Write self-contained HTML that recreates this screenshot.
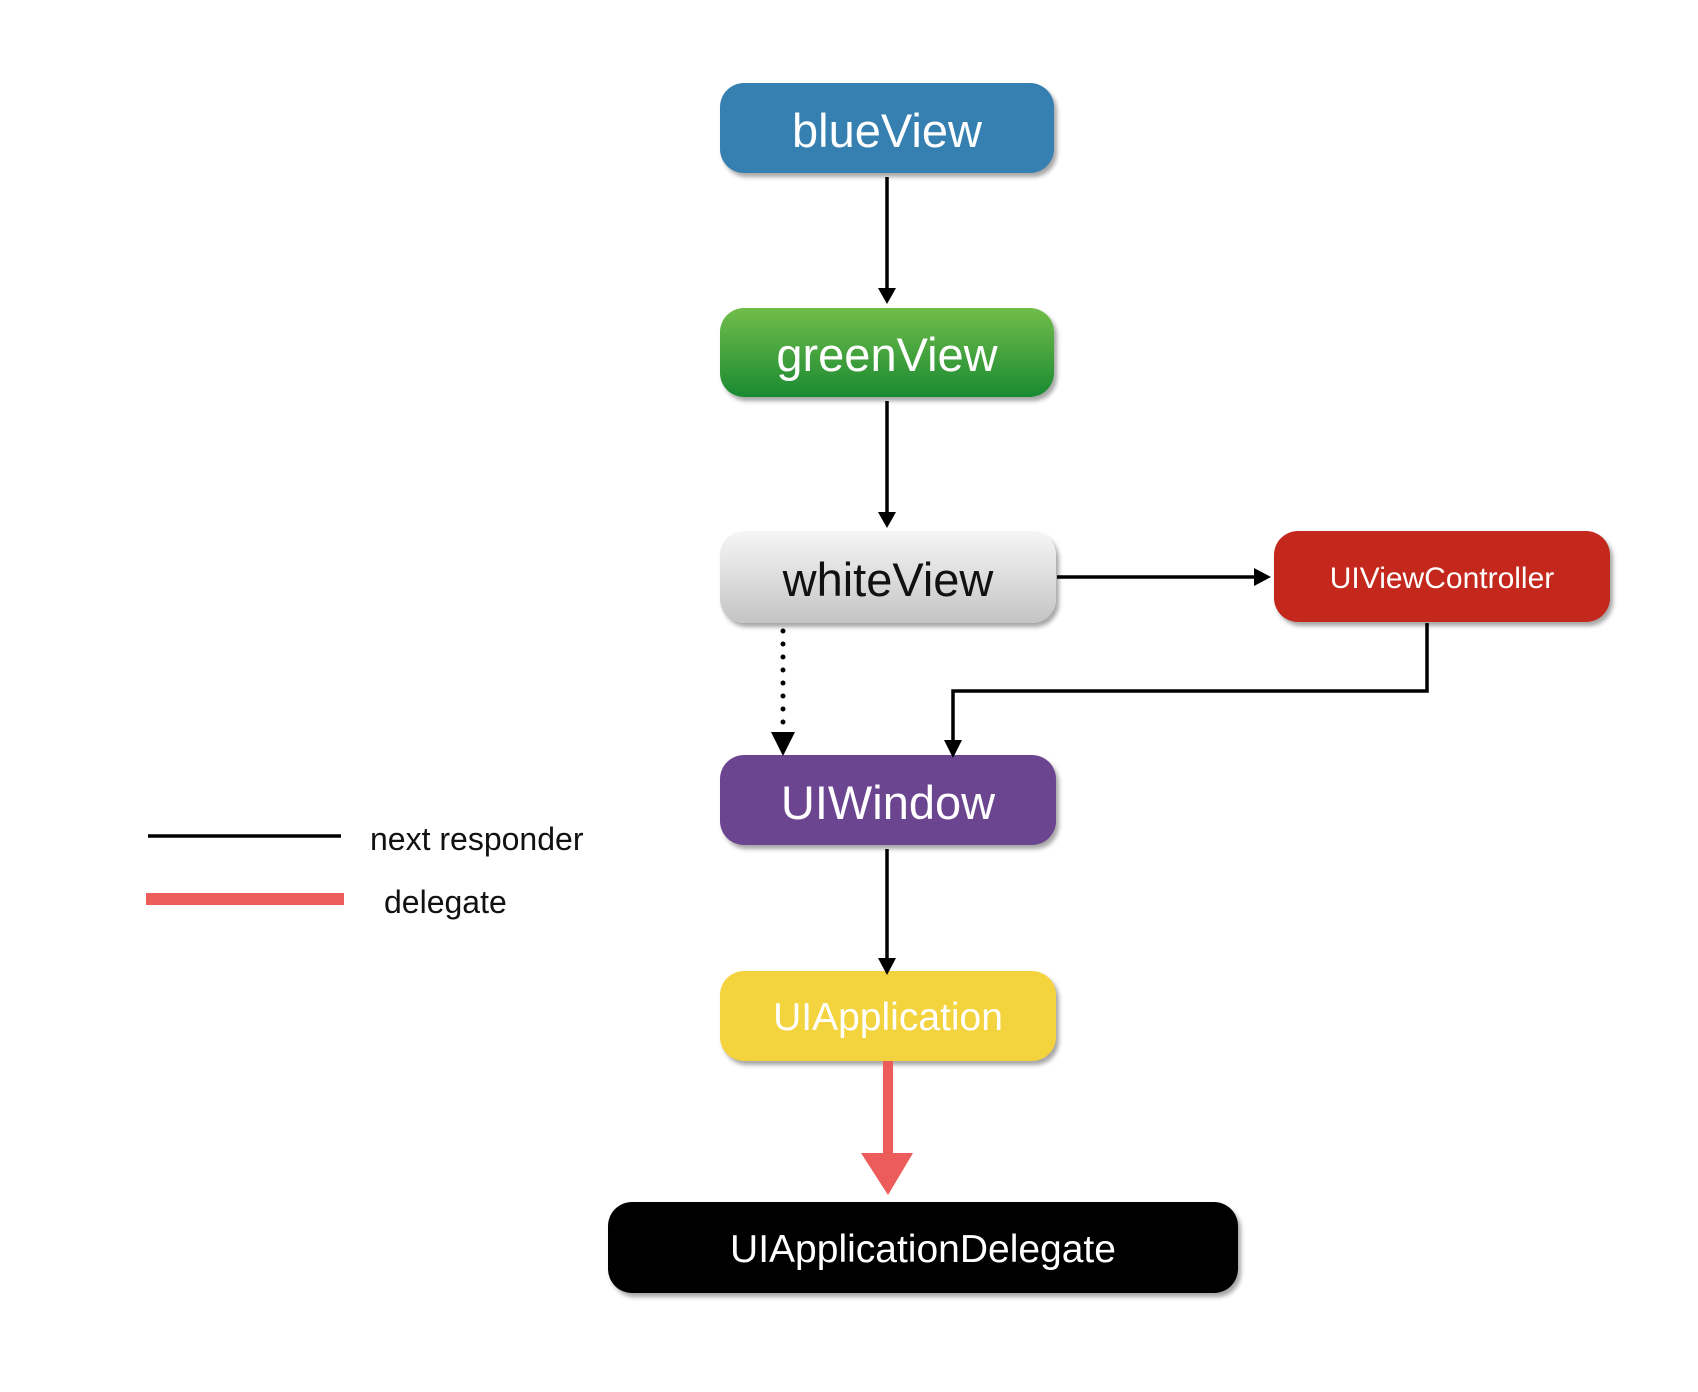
<!DOCTYPE html>
<html><head><meta charset="utf-8"><style>
html,body{margin:0;padding:0;background:#fff;width:1698px;height:1392px;overflow:hidden}
.b{position:absolute;border-radius:24px;display:flex;align-items:center;justify-content:center;font-family:"Liberation Sans",sans-serif;color:#fff;box-shadow:3px 4px 4px rgba(0,0,0,0.35);padding-top:4px;box-sizing:border-box}
svg{position:absolute;left:0;top:0}
.t{position:absolute;font-family:"Liberation Sans",sans-serif;font-size:32px;color:#111}
</style></head><body>
<div class="b" style="left:720px;top:83px;width:334px;height:90px;background:#3580b0;font-size:47px">blueView</div>
<div class="b" style="left:720px;top:308px;width:334px;height:89px;background:linear-gradient(#72bd4a,#1a8a32);font-size:47px">greenView</div>
<div class="b" style="left:720px;top:531px;width:336px;height:92px;background:linear-gradient(#f6f6f6,#c4c4c4);color:#111;font-size:47px">whiteView</div>
<div class="b" style="left:1274px;top:531px;width:336px;height:91px;background:#c4281c;font-size:30px">UIViewController</div>
<div class="b" style="left:720px;top:755px;width:336px;height:90px;background:#6b4590;font-size:47px">UIWindow</div>
<div class="b" style="left:720px;top:971px;width:336px;height:90px;background:#f3d33e;font-size:39px">UIApplication</div>
<div class="b" style="left:608px;top:1202px;width:630px;height:91px;background:#000;font-size:39px">UIApplicationDelegate</div>
<svg width="1698" height="1392">
<g stroke="#000" stroke-width="3.5" fill="none">
<line x1="887" y1="177" x2="887" y2="290"/>
<line x1="887" y1="401" x2="887" y2="514"/>
<line x1="1057" y1="577" x2="1256" y2="577"/>
<polyline points="1427,623 1427,691 953,691 953,742"/>
<line x1="887" y1="849" x2="887" y2="960"/>
<line x1="783" y1="631" x2="783" y2="735" stroke-dasharray="0 13" stroke-linecap="round" stroke-width="5"/>
<line x1="148" y1="836" x2="341" y2="836"/>
</g>
<g fill="#000">
<polygon points="878,288 896,288 887,304"/>
<polygon points="878,512 896,512 887,528"/>
<polygon points="1254,568 1254,586 1271,577"/>
<polygon points="944,740 962,740 953,758"/>
<polygon points="878,958 896,958 887,975"/>
<polygon points="771,732 795,732 783,756"/>
</g>
<g fill="#ec5c5a">
<rect x="883" y="1061" width="10" height="100"/>
<polygon points="861,1153 913,1153 888,1195"/>
<rect x="146" y="893" width="198" height="12"/>
</g>
</svg>
<div class="t" style="left:370px;top:821px">next responder</div>
<div class="t" style="left:384px;top:884px">delegate</div>
</body></html>
